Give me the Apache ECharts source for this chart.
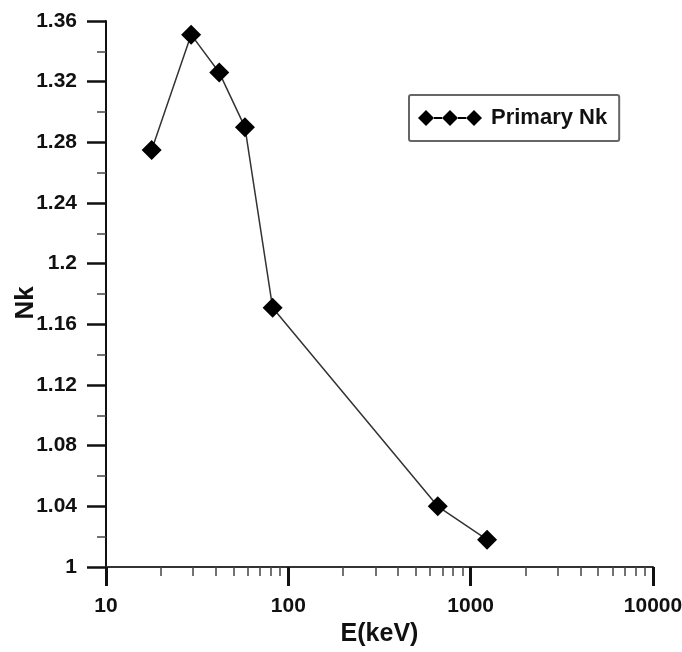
<!DOCTYPE html>
<html>
<head>
<meta charset="utf-8">
<script src="https://cdn.jsdelivr.net/npm/echarts@6/dist/echarts.min.js"></script>
<style>
  html, body { margin: 0; padding: 0; background: #fff; }
  #container { width: 682px; height: 652px; }
</style>
</head>
<body>
<div id="container"></div>
<script>
// data
var energies = [17.8, 29.3, 41.8, 57.8, 82, 660, 1230];   // E (keV)
var nkValues = [1.275, 1.351, 1.326, 1.290, 1.171, 1.040, 1.018];
var seriesName = 'Primary Nk';

// axes
var xRange = [10, 10000];
var yRange = [1, 1.36];
var yStep = 0.04;
var xMinorTicks = [20, 30, 40, 50, 60, 70, 80, 90,
  200, 300, 400, 500, 600, 700, 800, 900,
  2000, 3000, 4000, 5000, 6000, 7000, 8000, 9000];

var font = 'Liberation Sans';

// three diamonds joined by a line, for the legend
var legendIcon = 'path://M0 8L8 0L16 8L8 16Z M16 7L24 7L24 9L16 9Z M24 8L32 0L40 8L32 16Z M40 7L48 7L48 9L40 9Z M48 8L56 0L64 8L56 16Z';

var myChart = echarts.init(document.getElementById('container'));

var options = {
  backgroundColor: '#fff',
  animation: false,
  grid: { left: 106, right: 29, top: 21, bottom: 85, containLabel: false, outerBoundsMode: 'none' },
  legend: {
    left: 409,
    top: 95,
    padding: [12, 12, 12, 9],
    itemWidth: 64,
    itemHeight: 18,
    itemGap: 0,
    borderColor: '#666',
    borderWidth: 2,
    borderRadius: 2,
    backgroundColor: '#fff',
    textStyle: { fontFamily: font, fontWeight: 'bold', fontSize: 22, color: '#111', padding: [0, 0, 0, 4] },
    data: [{ name: seriesName, icon: legendIcon }]
  },
  xAxis: [{
    type: 'log',
    logBase: 10,
    min: xRange[0],
    max: xRange[1],
    position: 'bottom',
    name: 'E(keV)',
    nameLocation: 'middle',
    nameGap: 55,
    nameTextStyle: { fontFamily: font, fontWeight: 'bold', fontSize: 25, color: '#111' },
    axisLine: { lineStyle: { color: '#333', width: 2 } },
    axisTick: { show: true, length: 19, lineStyle: { color: '#111', width: 3 } },
    axisLabel: {
      margin: 29, fontFamily: font, fontWeight: 'bold', fontSize: 21, color: '#111',
      formatter: function (v) { return String(v); }
    },
    splitLine: { show: false }
  }, {
    // minor ticks of the log axis, on a log10 value axis of the same span
    type: 'value',
    min: Math.log10(xRange[0]),
    max: Math.log10(xRange[1]),
    position: 'bottom',
    axisLine: { show: false },
    axisLabel: { show: false },
    splitLine: { show: false },
    axisTick: {
      show: true,
      length: 9,
      customValues: xMinorTicks.map(function (v) { return Math.log10(v); }),
      lineStyle: { color: '#444', width: 1.5 }
    }
  }],
  yAxis: {
    type: 'value',
    min: yRange[0],
    max: yRange[1],
    interval: yStep,
    name: 'Nk',
    nameLocation: 'middle',
    nameGap: 67,
    nameMoveOverlap: false,
    nameRotate: 90,
    nameTextStyle: { fontFamily: font, fontWeight: 'bold', fontSize: 26, color: '#111', padding: [0, 18, 0, 0] },
    axisLine: { show: true, lineStyle: { color: '#111', width: 2 } },
    axisTick: { show: true, length: 19, lineStyle: { color: '#111', width: 2.5 } },
    minorTick: { show: true, splitNumber: 2, length: 9, lineStyle: { color: '#444', width: 1.5 } },
    axisLabel: { margin: 29, fontFamily: font, fontWeight: 'bold', fontSize: 21, color: '#111' },
    splitLine: { show: false }
  },
  series: [{
    name: seriesName,
    type: 'line',
    xAxisIndex: 0,
    data: energies.map(function (e, i) { return [e, nkValues[i]]; }),
    symbol: 'diamond',
    symbolSize: 20,
    itemStyle: { color: '#000' },
    lineStyle: { color: '#333', width: 1.5 }
  }]
};

myChart.setOption(options);
</script>
</body>
</html>
